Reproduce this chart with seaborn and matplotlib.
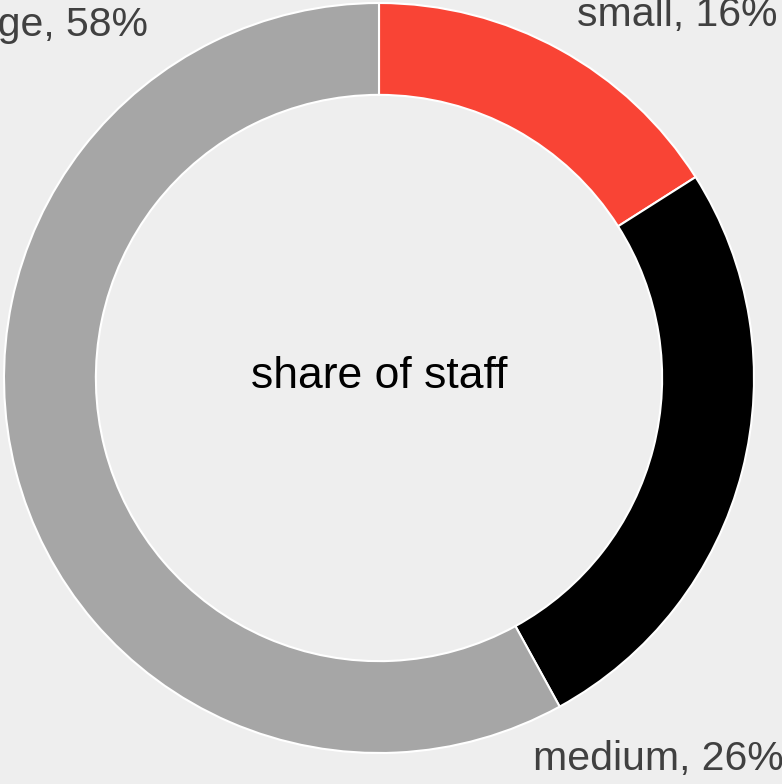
import matplotlib
matplotlib.use("Agg")
import seaborn as sns
import matplotlib.pyplot as plt

sns.set_theme(style="white", rc={"figure.facecolor": "#eeeeee", "axes.facecolor": "#eeeeee"})
plt.rcParams["font.family"] = ["Liberation Sans", "DejaVu Sans"]

# 데이터
categories = ["small", "medium", "large"]
shares = [16, 26, 58]
colors = ["#f94435", "#000000", "#a6a6a6"]

fig = plt.figure(figsize=(7.82, 7.84), dpi=100)
ax = fig.add_axes([0, 0, 1, 1])
ax.pie(shares, colors=colors, startangle=90, counterclock=False, radius=1,
       wedgeprops=dict(width=0.245, edgecolor="white", linewidth=1.5))
ax.set_aspect("equal")
ax.set_xlim(-379 / 375, 403 / 375)
ax.set_ylim(-406 / 375, 378 / 375)
ax.axis("off")

# 라벨 위치 (대충 맞춤, baseline 기준)
label_pos = {"small": (0.528, 0.939, "left"),
             "medium": (0.411, -1.045, "left"),
             "large": (-0.616, 0.912, "right")}
for cat, val in zip(categories, shares):
    x, y, ha = label_pos[cat]
    ax.text(x, y, f"{cat}, {val}%", ha=ha, va="baseline", fontsize=29.5, color="#404040")

ax.text(0, -0.027, "share of staff", ha="center", va="baseline", fontsize=32, color="black")

fig.savefig("out.png", dpi=100, facecolor=fig.get_facecolor())
